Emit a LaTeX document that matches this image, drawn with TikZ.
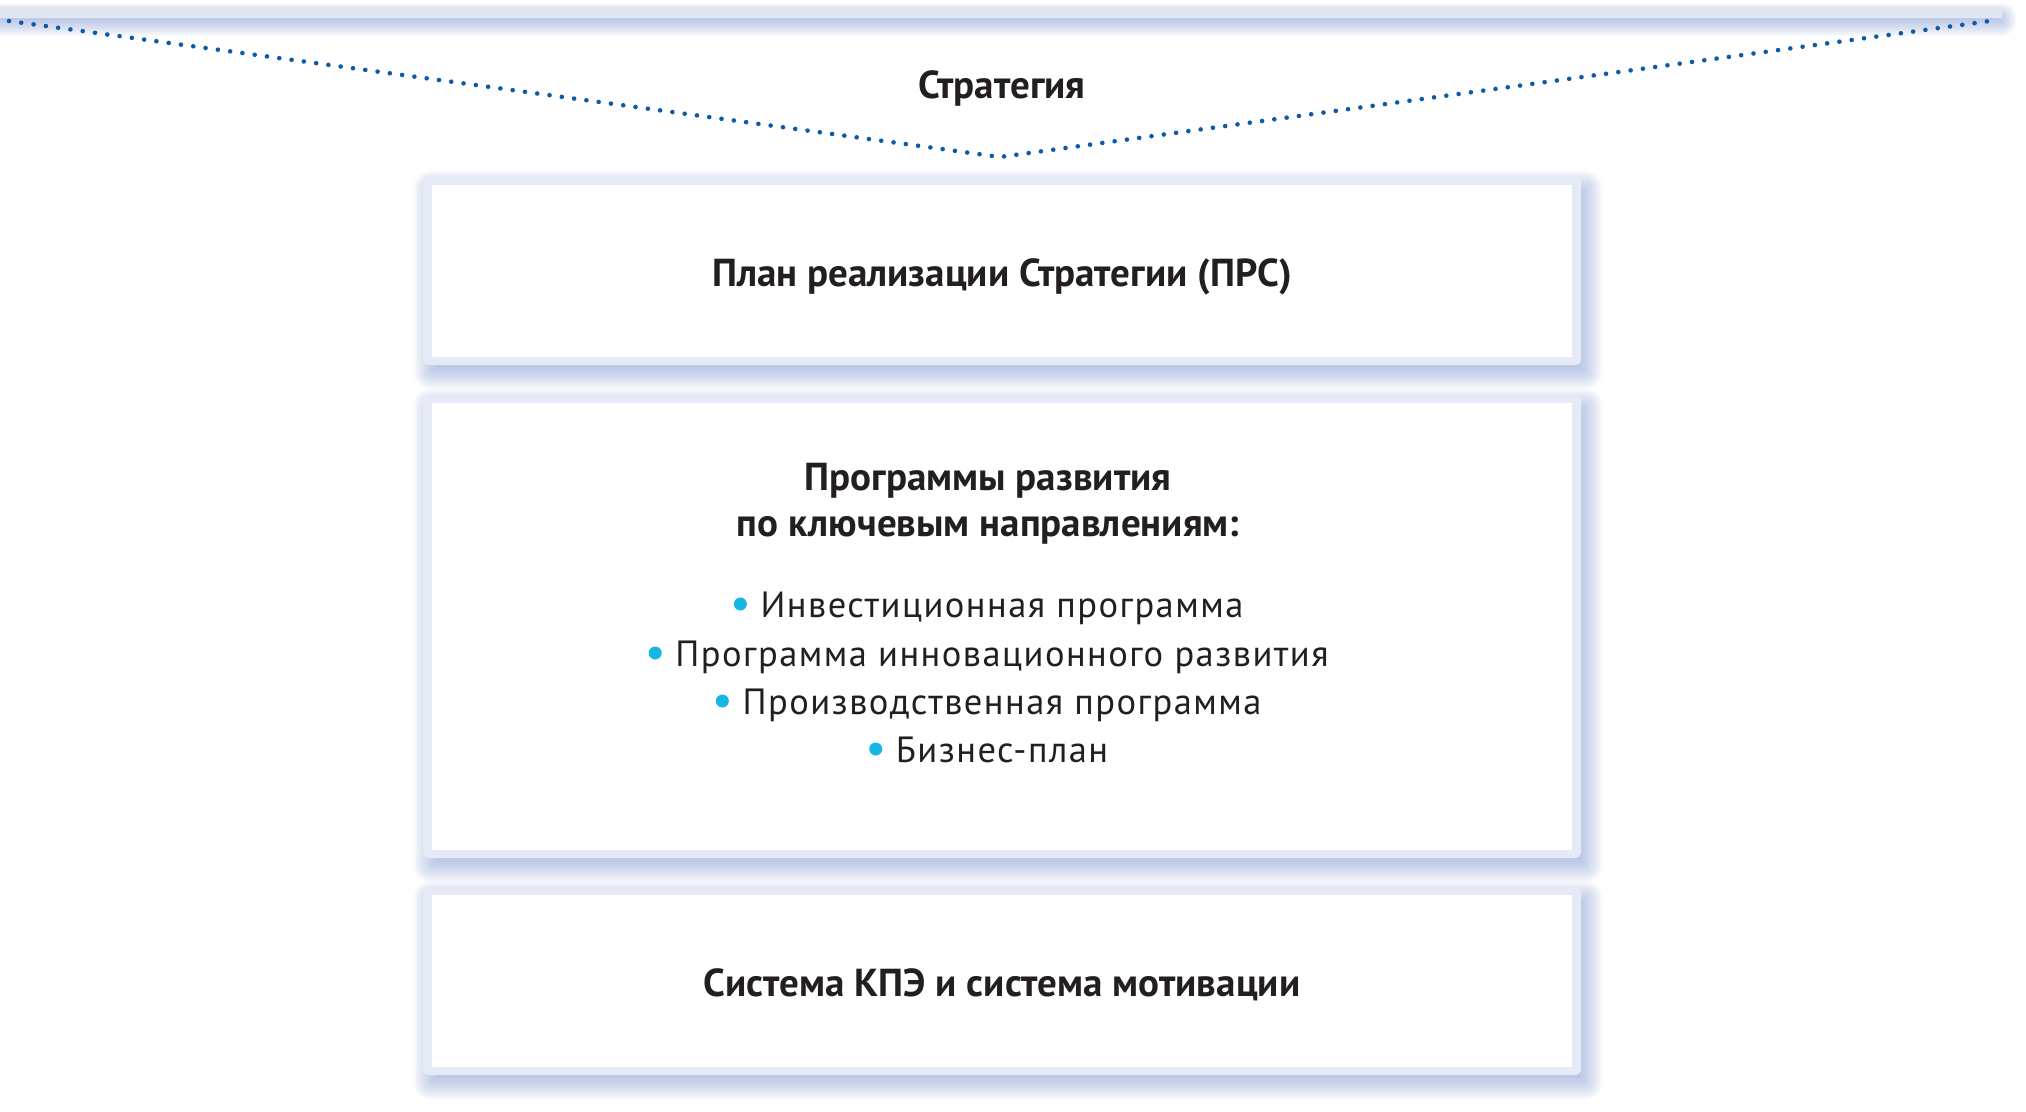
\documentclass[tikz,border=0pt]{standalone}
\usepackage{fontspec}
\setmainfont{PT Sans}
\newfontfamily\hfont{PT Sans}
\newfontfamily\lfont{PT Sans}[LetterSpace=4.0]
\definecolor{boxborder}{HTML}{E6EAF6}
\definecolor{bandc}{HTML}{E1E6F3}
\definecolor{shadowc}{HTML}{7F9AD6}
\definecolor{dotblue}{HTML}{0D5BA4}
\definecolor{bulletc}{HTML}{16B7E2}
\definecolor{textc}{HTML}{231F20}
% soft shadow: stacked translucent rectangles, shrunk and grown round an offset copy
\newcommand\softshadow[4]{%
  \foreach \k in {-10,...,12}{%
    \pgfmathsetmacro\rr{max(2,1.3*\k+2)}%
    \fill[shadowc, fill opacity=0.036, rounded corners=\rr pt]
      ({#1+6-1.3*\k},{#2+9-1.3*\k}) rectangle ({#3+6+1.3*\k},{#4+9+1.3*\k});
  }}
\tikzset{
  panel/.style={fill=boxborder, rounded corners=5pt, inner sep=0pt, outer sep=0pt},
  head/.style={text=textc, font=\hfont\bfseries\fontsize{39}{46}\selectfont, inner sep=0pt, anchor=base},
  item/.style={text=textc, font=\lfont\fontsize{36.5}{44}\selectfont, inner sep=0pt, anchor=base},
  bul/.style={circle, fill=bulletc, minimum size=13pt, inner sep=0pt},
  dotline/.style={dotblue, line width=4.6pt, line cap=round, dash pattern=on 0pt off 12.4pt}
}
\begin{document}
\begin{tikzpicture}[x=1pt,y=-1pt]
\useasboundingbox (0,0) rectangle (2026,1111);
\fill[white] (0,0) rectangle (2026,1111);
% shadow of the top band
\foreach \k in {-4,...,10}{%
  \pgfmathsetmacro\rr{max(2,1.2*\k+2)}%
  \fill[shadowc, fill opacity=0.045, rounded corners=\rr pt]
    ({-30-1.2*\k},{15-1.2*\k}) rectangle ({2002+2+1.2*\k},{18+6+1.2*\k});
}
% shadows of the boxes
\softshadow{423}{177}{1581}{365}
\softshadow{423}{395}{1581}{858}
\softshadow{423}{887}{1581}{1075}
% top band
\fill[bandc] (0,6) rectangle (2002,18);
% dotted strategy line
\coordinate (dl) at (9,21);
\coordinate (dm) at (1000,157);
\coordinate (dr) at (1990,21);
\draw[dotline] (dl) -- (dm) -- (dr);
\node[head] (strat) at (1002,98) {Стратегия};
% boxes
\node[panel, minimum width=1158pt, minimum height=188pt] (b1) at (1002,271) {};
\node[panel, minimum width=1158pt, minimum height=463pt] (b2) at (1002,626.5) {};
\node[panel, minimum width=1158pt, minimum height=188pt] (b3) at (1002,981) {};
\foreach \b in {b1,b2,b3}{
  \fill[white] ([shift={(9,8)}]\b.north west) rectangle ([shift={(-9,-8)}]\b.south east);
}
% texts
\node[head] (t1) at (1002,286) {План реализации Стратегии (ПРС)};
\node[head] (h1) at (988,490) {Программы развития};
\node[head] (h2) at (988,536) {по ключевым направлениям:};
\node[item] (i1) at (1002,617) {Инвестиционная программа};
\node[item] (i2) at (1002,666) {Программа инновационного развития};
\node[item] (i3) at (1002,714) {Производственная программа};
\node[item] (i4) at (1002,762) {Бизнес-план};
\foreach \i in {i1,i2,i3,i4}{
  \node[bul] (\i d) at ([xshift=-20pt, yshift=13pt]\i.base west) {};
}
\node[head] (t3) at (1002,996) {Система КПЭ и система мотивации};
\end{tikzpicture}
\end{document}
